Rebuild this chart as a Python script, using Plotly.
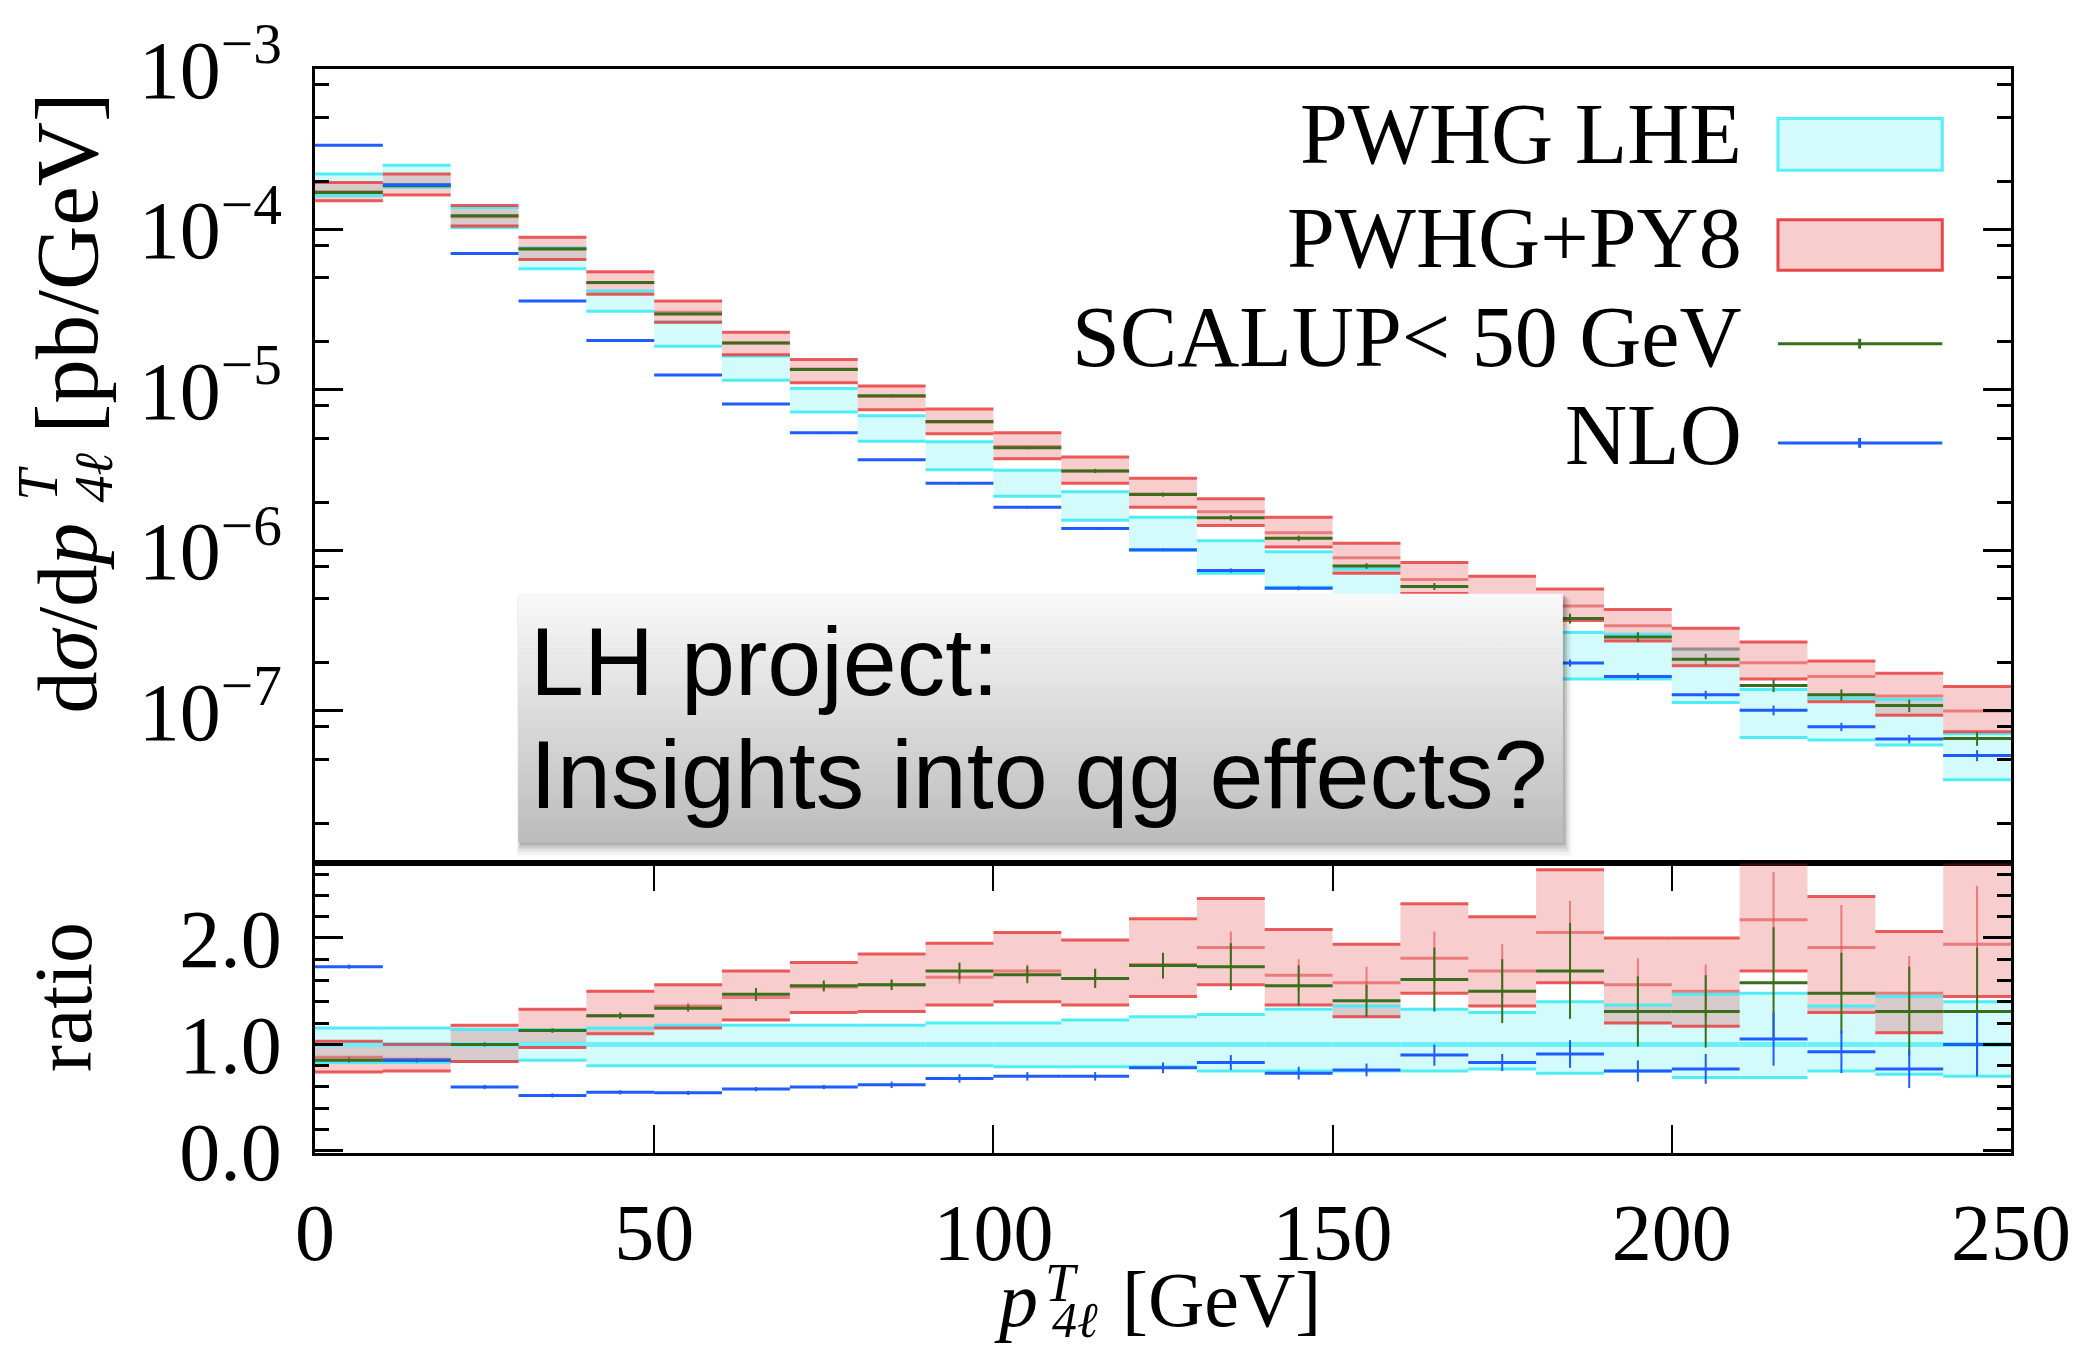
import plotly.graph_objects as go

# ---------------- data ----------------
bin_lo = [0, 10, 20, 30, 40, 50, 60, 70, 80, 90, 100, 110, 120, 130, 140,
          150, 160, 170, 180, 190, 200, 210, 220, 230, 240]
bin_hi = [10, 20, 30, 40, 50, 60, 70, 80, 90, 100, 110, 120, 130, 140, 150,
          160, 170, 180, 190, 200, 210, 220, 230, 240, 250]

# main panel  dsigma/dpT [pb/GeV]
lhe_hi = [2.22e-4, 2.51e-4, 1.37e-4, 7.7e-5, 4.14e-5, 2.65e-5, 1.63e-5, 1.02e-5, 6.9e-6, 4.75e-6,
          3.16e-6, 2.32e-6, 1.61e-6, 1.15e-6, 9.8e-7, 7.7e-7, 4.9e-7, 4.0e-7, 3.08e-7, 3.0e-7,
          2.42e-7, 1.36e-7, 1.2e-7, 1.18e-7, 7.2e-8]
lhe_lo = [1.62e-4, 1.83e-4, 1.03e-4, 5.69e-5, 3.09e-5, 1.87e-5, 1.15e-5, 7.28e-6, 4.8e-6, 3.18e-6,
          2.18e-6, 1.54e-6, 1.0e-6, 7.2e-7, 5.9e-7, 4.45e-7, 2.86e-7, 2.39e-7, 1.58e-7, 1.58e-7,
          1.13e-7, 6.84e-8, 6.59e-8, 6.13e-8, 3.73e-8]
py8_hi = [1.96e-4, 2.22e-4, 1.41e-4, 8.93e-5, 5.46e-5, 3.59e-5, 2.29e-5, 1.55e-5, 1.06e-5, 7.6e-6,
          5.41e-6, 3.82e-6, 2.82e-6, 2.10e-6, 1.61e-6, 1.11e-6, 8.4e-7, 6.9e-7, 5.75e-7, 4.28e-7,
          3.27e-7, 2.69e-7, 2.05e-7, 1.72e-7, 1.42e-7]
py8_lo = [1.51e-4, 1.64e-4, 1.05e-4, 6.5e-5, 3.95e-5, 2.64e-5, 1.66e-5, 1.11e-5, 7.53e-6, 5.33e-6,
          3.73e-6, 2.62e-6, 1.86e-6, 1.43e-6, 1.05e-6, 7.2e-7, 5.4e-7, 4.2e-7, 3.66e-7, 2.73e-7,
          1.91e-7, 1.58e-7, 1.14e-7, 9.4e-8, 7.41e-8]
py8_c = [1.72e-4, 1.9e-4, 1.2e-4, 7.6e-5, 4.65e-5, 3.05e-5, 1.96e-5, 1.35e-5, 9.1e-6, 6.3e-6,
         4.45e-6, 3.13e-6, 2.25e-6, 1.74e-6, 1.29e-6, 9.0e-7, 6.6e-7, 5.2e-7, 4.5e-7, 3.4e-7,
         2.43e-7, 2.0e-7, 1.64e-7, 1.24e-7, 1.0e-7]
scal = [1.70e-4, 1.87e-4, 1.22e-4, 7.57e-5, 4.67e-5, 2.97e-5, 1.96e-5, 1.34e-5, 9.19e-6, 6.37e-6,
        4.36e-6, 3.13e-6, 2.23e-6, 1.60e-6, 1.19e-6, 8.0e-7, 5.97e-7, 4.65e-7, 3.77e-7, 2.89e-7,
        2.1e-7, 1.44e-7, 1.26e-7, 1.08e-7, 6.74e-8]
nlo = [3.35e-4, 1.9e-4, 7.08e-5, 3.58e-5, 2.03e-5, 1.24e-5, 8.17e-6, 5.41e-6, 3.68e-6, 2.62e-6,
       1.86e-6, 1.37e-6, 1.01e-6, 7.5e-7, 5.82e-7, 4.3e-7, 3.3e-7, 2.56e-7, 1.99e-7, 1.64e-7,
       1.26e-7, 1.01e-7, 7.96e-8, 6.68e-8, 5.28e-8]
scal_relerr = [0.01, 0.01, 0.01, 0.01, 0.01, 0.01, 0.01, 0.02, 0.02, 0.02, 0.02, 0.03, 0.03,
               0.04, 0.04, 0.04, 0.05, 0.06, 0.07, 0.07, 0.08, 0.09, 0.08, 0.09, 0.10]
nlo_relerr = [0.01, 0.01, 0.01, 0.01, 0.01, 0.01, 0.01, 0.01, 0.01, 0.02, 0.02, 0.02, 0.02,
              0.03, 0.03, 0.03, 0.04, 0.04, 0.05, 0.05, 0.06, 0.07, 0.06, 0.06, 0.08]

# ratio panel (normalised to PWHG LHE central value)
r_lhe_c = [1.0, 1.0, 1.0, 1.0, 1.0, 1.0, 1.0, 1.0, 1.0, 1.0, 1.0, 1.0, 1.0, 1.0, 1.0,
           1.0, 1.0, 1.0, 1.0, 1.0, 1.0, 1.0, 1.0, 1.0, 1.0]
r_lhe_hi = [1.155, 1.155, 1.14, 1.14, 1.155, 1.18, 1.18, 1.18, 1.18, 1.20, 1.20, 1.23, 1.26,
            1.28, 1.33, 1.36, 1.33, 1.30, 1.40, 1.37, 1.47, 1.48, 1.36, 1.45, 1.40]
r_lhe_lo = [0.83, 0.83, 0.84, 0.85, 0.80, 0.80, 0.80, 0.80, 0.80, 0.80, 0.79, 0.79, 0.79,
            0.75, 0.75, 0.75, 0.75, 0.77, 0.73, 0.75, 0.69, 0.69, 0.75, 0.72, 0.70]
r_py8_hi = [1.03, 1.00, 1.18, 1.33, 1.50, 1.56, 1.69, 1.77, 1.85, 1.95, 2.05, 1.98, 2.18,
            2.37, 2.08, 1.94, 2.32, 2.20, 2.64, 2.00, 2.00, 2.85, 2.39, 2.06, 2.85]
r_py8_lo = [0.74, 0.75, 0.84, 0.97, 1.10, 1.155, 1.23, 1.30, 1.31, 1.37, 1.40, 1.37, 1.45,
            1.56, 1.37, 1.26, 1.48, 1.36, 1.58, 1.20, 1.17, 1.69, 1.30, 1.11, 1.45]
r_py8_c = [0.88, 0.86, 1.0, 1.13, 1.27, 1.36, 1.44, 1.54, 1.56, 1.63, 1.69, 1.62, 1.75,
           1.91, 1.65, 1.58, 1.81, 1.69, 2.05, 1.56, 1.50, 2.17, 1.91, 1.48, 1.94]
r_py8_err = [0.01, 0.01, 0.01, 0.02, 0.02, 0.03, 0.03, 0.04, 0.04, 0.06, 0.06, 0.08, 0.10,
             0.15, 0.15, 0.15, 0.25, 0.25, 0.30, 0.25, 0.25, 0.45, 0.40, 0.35, 0.55]
r_scal = [0.85, 0.85, 1.0, 1.13, 1.27, 1.34, 1.47, 1.55, 1.56, 1.69, 1.655, 1.62, 1.74,
          1.73, 1.55, 1.41, 1.61, 1.50, 1.69, 1.31, 1.31, 1.58, 1.48, 1.31, 1.31]
r_scal_err = [0.02, 0.02, 0.02, 0.02, 0.03, 0.03, 0.06, 0.05, 0.05, 0.08, 0.08, 0.09, 0.12,
              0.22, 0.19, 0.15, 0.30, 0.30, 0.45, 0.33, 0.34, 0.52, 0.38, 0.42, 0.60]
r_nlo = [1.73, 0.85, 0.60, 0.52, 0.55, 0.545, 0.58, 0.60, 0.62, 0.68, 0.70, 0.70, 0.78,
         0.83, 0.73, 0.76, 0.90, 0.83, 0.91, 0.75, 0.77, 1.05, 0.93, 0.77, 1.00]
r_nlo_err = [0.02, 0.01, 0.02, 0.02, 0.02, 0.02, 0.02, 0.02, 0.03, 0.04, 0.04, 0.04, 0.05,
             0.07, 0.06, 0.06, 0.10, 0.08, 0.13, 0.10, 0.14, 0.25, 0.20, 0.18, 0.30]

legend_labels = ["PWHG LHE", "PWHG+PY8", "SCALUP< 50 GeV", "NLO"]
main_tickvals = [1e-7, 1e-6, 1e-5, 1e-4, 1e-3]
main_ticktext = ["10<sup>\u22127</sup>", "10<sup>\u22126</sup>", "10<sup>\u22125</sup>",
                 "10<sup>\u22124</sup>", "10<sup>\u22123</sup>"]
ratio_tickvals = [0.0, 1.0, 2.0]
ratio_ticktext = ["0.0", "1.0", "2.0"]
x_tickvals = [0, 50, 100, 150, 200, 250]

# ---------------- styles ----------------
CYAN_FILL = "rgba(0,232,238,0.17)"
CYAN_LINE = "rgba(70,236,246,0.95)"
CYAN_MID = "rgba(110,240,248,1)"
RED_FILL = "rgba(226,45,45,0.24)"
RED_LINE = "rgba(232,62,62,0.85)"
RED_MID = "rgba(225,70,70,0.6)"
GREEN = "#3b6e1c"
BLUE = "#1f5cff"
SERIF = "Liberation Serif"
SANS = "Liberation Sans"


def steps(vals):
    xs, ys = [], []
    for a, b, v in zip(bin_lo, bin_hi, vals):
        xs += [a, b, None]
        ys += [v, v, None]
    return xs, ys


def boxes(lo, hi):
    xs, ys = [], []
    for a, b, l, h in zip(bin_lo, bin_hi, lo, hi):
        xs += [a, b, b, a, a, None]
        ys += [l, l, h, h, l, None]
    return xs, ys


def bars_abs(vals, err):
    xs, ys = [], []
    for a, b, v, e in zip(bin_lo, bin_hi, vals, err):
        c = 0.5 * (a + b)
        xs += [c, c, None]
        ys += [v - e, v + e, None]
    return xs, ys


def bars_rel(vals, rel):
    xs, ys = [], []
    for a, b, v, e in zip(bin_lo, bin_hi, vals, rel):
        c = 0.5 * (a + b)
        xs += [c, c, None]
        ys += [v * (1 - e), v * (1 + e), None]
    return xs, ys


fig = go.Figure()


def add_line(xy, color, width, xa, ya):
    fig.add_trace(go.Scatter(x=xy[0], y=xy[1], mode="lines", xaxis=xa, yaxis=ya,
                             line=dict(color=color, width=width), showlegend=False,
                             hoverinfo="skip"))


def add_band(xy, fill, xa, ya):
    fig.add_trace(go.Scatter(x=xy[0], y=xy[1], mode="lines", fill="toself", fillcolor=fill,
                             xaxis=xa, yaxis=ya, line=dict(width=0, color=fill),
                             showlegend=False, hoverinfo="skip"))


# main panel
add_band(boxes(lhe_lo, lhe_hi), CYAN_FILL, "x", "y")
add_band(boxes(py8_lo, py8_hi), RED_FILL, "x", "y")
add_line(steps(lhe_hi), CYAN_LINE, 3, "x", "y")
add_line(steps(lhe_lo), CYAN_LINE, 3, "x", "y")
add_line(steps(py8_hi), RED_LINE, 3, "x", "y")
add_line(steps(py8_lo), RED_LINE, 3, "x", "y")
add_line(steps(py8_c), RED_MID, 3, "x", "y")
add_line(steps(scal), GREEN, 3, "x", "y")
add_line(bars_rel(scal, scal_relerr), GREEN, 2, "x", "y")
add_line(steps(nlo), BLUE, 3, "x", "y")
add_line(bars_rel(nlo, nlo_relerr), BLUE, 2, "x", "y")

# ratio panel
add_band(boxes(r_lhe_lo, r_lhe_hi), CYAN_FILL, "x2", "y2")
add_band(boxes(r_py8_lo, r_py8_hi), RED_FILL, "x2", "y2")
add_line(steps(r_lhe_hi), CYAN_LINE, 3, "x2", "y2")
add_line(steps(r_lhe_lo), CYAN_LINE, 3, "x2", "y2")
add_line(steps(r_lhe_c), CYAN_MID, 5, "x2", "y2")
add_line(steps(r_py8_hi), RED_LINE, 3, "x2", "y2")
add_line(steps(r_py8_lo), RED_LINE, 3, "x2", "y2")
add_line(steps(r_py8_c), RED_MID, 3, "x2", "y2")
add_line(bars_abs(r_py8_c, r_py8_err), RED_MID, 2, "x2", "y2")
add_line(steps(r_scal), GREEN, 3, "x2", "y2")
add_line(bars_abs(r_scal, r_scal_err), GREEN, 2, "x2", "y2")
add_line(steps(r_nlo), BLUE, 3, "x2", "y2")
add_line(bars_abs(r_nlo, r_nlo_err), BLUE, 2, "x2", "y2")

# ---------------- layout ----------------
W, H = 2083, 1353
L, R, T, B = 315, 2018, 60, 1153
SPLIT = 861


def px(x):
    return (x - L) / (R - L)


def py(y):
    return (B - y) / (B - T)


split_frac = py(SPLIT)
axis_common = dict(showline=True, linecolor="black", linewidth=2.5, showgrid=False,
                   zeroline=False)

main_minor = [m * 10.0 ** e for e in range(-8, -3) for m in (2, 5, 8)]
main_minor = [v for v in main_minor if 1.1e-8 < v < 1e-3]
ratio_minor = [0.2, 0.4, 0.6, 0.8, 1.2, 1.4, 1.6, 1.8, 2.2, 2.4, 2.6]

fig.update_layout(
    width=W, height=H,
    margin=dict(l=L, r=W - R, t=T, b=H - B, pad=0),
    paper_bgcolor="white", plot_bgcolor="white",
    showlegend=False,
    xaxis=dict(domain=[0, 1], anchor="y", range=[0, 250], showticklabels=False,
               ticks="", mirror=True, **axis_common),
    yaxis=dict(domain=[split_frac, 1], anchor="x", type="log", range=[-7.95, -3.0],
               tickmode="array", tickvals=main_tickvals, ticktext=main_ticktext,
               ticks="inside", ticklen=28, tickwidth=2.5, tickcolor="black",
               mirror="allticks", ticklabelstandoff=14,
               tickfont=dict(family=SERIF, size=82, color="black"),
               minor=dict(tickmode="array", tickvals=main_minor, ticks="inside",
                          ticklen=14, tickwidth=2.5, tickcolor="black"),
               **axis_common),
    xaxis2=dict(domain=[0, 1], anchor="y2", range=[0, 250], tickmode="array",
                tickvals=x_tickvals, ticks="inside", ticklen=28, tickwidth=2,
                tickcolor="black", mirror="allticks", ticklabelstandoff=8,
                tickfont=dict(family=SERIF, size=80, color="black"), **axis_common),
    yaxis2=dict(domain=[0, split_frac], anchor="x2", range=[-0.02, 2.70],
                tickmode="array", tickvals=ratio_tickvals, ticktext=ratio_ticktext,
                ticks="inside", ticklen=28, tickwidth=2.5, tickcolor="black",
                mirror="allticks", ticklabelstandoff=14,
                tickfont=dict(family=SERIF, size=82, color="black"),
                minor=dict(tickmode="array", tickvals=ratio_minor, ticks="inside",
                           ticklen=14, tickwidth=2.5, tickcolor="black"),
                **axis_common),
)

shapes = []
annotations = []


def text_at(x, y, s, size, angle=0, xanchor="center", family=SERIF):
    annotations.append(dict(x=px(x), y=py(y), xref="paper", yref="paper", text=s,
                            textangle=angle, showarrow=False, xanchor=xanchor,
                            yanchor="middle", font=dict(family=family, size=size,
                                                        color="black")))


# y-axis title of main panel (rotated, stacked super/subscript)
text_at(66, 614, "d<i>\u03c3</i>/d<i>p</i>", 84, angle=-90)
text_at(36, 478, "<i>T</i>", 56, angle=-90)
text_at(93, 472, "<i>4\u2113</i>", 54, angle=-90)
text_at(66, 256, "[pb/GeV]", 89, angle=-90)
# ratio title
text_at(62, 996, "ratio", 82, angle=-90)
# x-axis title (stacked super/subscript)
text_at(1019, 1301, "<i>p</i>", 78)
text_at(1065, 1284, "<i>T</i>", 54)
text_at(1078, 1321, "<i>4\u2113</i>", 50)
text_at(1225, 1301, "[GeV]", 78)

# legend
leg_y = [126, 230, 330, 429]
for lab, yy in zip(legend_labels, leg_y):
    text_at(1750, yy, lab, 86, xanchor="right")
shapes.append(dict(type="rect", xref="paper", yref="paper", x0=px(1784), x1=px(1949),
                   y0=py(162), y1=py(110), fillcolor="rgba(0,232,238,0.17)",
                   line=dict(color="rgba(90,238,248,1)", width=3)))
shapes.append(dict(type="rect", xref="paper", yref="paper", x0=px(1784), x1=px(1949),
                   y0=py(263), y1=py(212), fillcolor="rgba(226,45,45,0.24)",
                   line=dict(color="rgba(232,62,62,0.95)", width=3)))
for yy, col in ((337, GREEN), (437, BLUE)):
    shapes.append(dict(type="line", xref="paper", yref="paper", x0=px(1784), x1=px(1949),
                       y0=py(yy), y1=py(yy), line=dict(color=col, width=3)))
    shapes.append(dict(type="line", xref="paper", yref="paper", x0=px(1866), x1=px(1866),
                       y0=py(yy - 5), y1=py(yy + 5), line=dict(color=col, width=3)))

# annotation box (slide overlay) with shadow and vertical gradient
BX0, BX1, BY0, BY1 = 519, 1568, 589, 839
for k, a in ((14, 0.05), (10, 0.07), (7, 0.09), (4, 0.12)):
    shapes.append(dict(type="rect", xref="paper", yref="paper", layer="above",
                       x0=px(BX0 - k * 0.3 + 3), x1=px(BX1 + k * 0.6),
                       y0=py(BY1 + k), y1=py(BY0 + k * 0.4),
                       fillcolor="rgba(0,0,0,%.3f)" % a, line=dict(width=0)))
NSTRIP = 50
top_c, bot_c = (249, 249, 249), (188, 188, 188)
for i in range(NSTRIP):
    y0 = BY0 + (BY1 - BY0) * i / NSTRIP
    y1 = BY0 + (BY1 - BY0) * (i + 1) / NSTRIP
    t = (i + 0.5) / NSTRIP
    c = tuple(int(round(top_c[j] + (bot_c[j] - top_c[j]) * t)) for j in range(3))
    shapes.append(dict(type="rect", xref="paper", yref="paper", layer="above",
                       x0=px(BX0), x1=px(BX1), y0=py(y1 + 0.6), y1=py(y0),
                       fillcolor="rgb(%d,%d,%d)" % c, line=dict(width=0)))
text_at(529, 657, "LH project:", 97, xanchor="left", family=SANS)
text_at(529, 771, "Insights into qg effects?", 97, xanchor="left", family=SANS)

fig.update_layout(shapes=shapes, annotations=annotations)
fig.write_html("out.html")
